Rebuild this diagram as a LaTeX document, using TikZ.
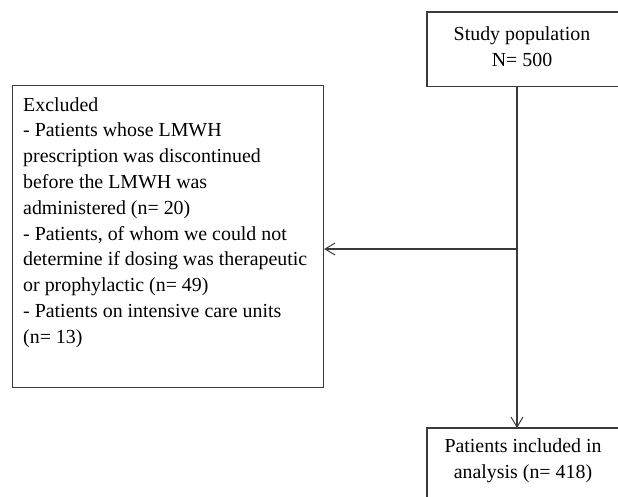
\documentclass[tikz,border=0pt]{standalone}
\usepackage{fontspec}
\setmainfont{Liberation Serif}
\usetikzlibrary{arrows.meta}
\definecolor{linec}{HTML}{3A3A3A}
\tikzset{
  box/.style={draw=linec, line width=1.1pt, inner sep=0pt, anchor=north west},
  openbox/.style={inner sep=0pt, anchor=north west},
  edge/.style={draw=linec, line width=1.1pt},
  txt/.style={inner sep=0pt, font=\fontsize{19.9}{25.8}\selectfont, text=black},
  conn/.style={draw=linec, line width=1.1pt, -{Straight Barb[length=10pt,width=12pt,line width=1pt]}}
}
\begin{document}
\begin{tikzpicture}[x=1pt,y=-1pt]
\useasboundingbox (0,0) rectangle (618,496);
% boxes (the two right-hand boxes run off the page)
\node[openbox, minimum width=240pt, minimum height=74pt] (pop) at (427,12) {};
\draw[edge] (pop.north east) -- (pop.north west) -- (pop.south west) -- (pop.south east);
\node[box, minimum width=311pt, minimum height=302pt] (excl) at (12,85) {};
\node[openbox, minimum width=240pt, minimum height=100pt] (incl) at (427,428) {};
\draw[edge] (incl.north east) -- (incl.north west) -- (incl.south west);
% texts
\node[txt, anchor=north, align=center] (poptxt) at (522,26.3) {Study population\\N= 500};
\node[txt, anchor=north west, align=left] (excltxt) at (23,97) {Excluded\\- Patients whose LMWH\\prescription was discontinued\\before the LMWH was\\administered (n= 20)\\- Patients, of whom we could not\\determine if dosing was therapeutic\\or prophylactic (n= 49)\\- Patients on intensive care units\\(n= 13)};
\node[txt, anchor=north, align=center] (incltxt) at (523,438.3) {Patients included in\\analysis (n= 418)};
% connectors
\coordinate (j) at (517,249);
\draw[edge] (pop.south -| j) -- (j);
\draw[conn] (j) -- (excl.east |- j);
\draw[conn] (j) -- (j |- incl.north);
\end{tikzpicture}
\end{document}
